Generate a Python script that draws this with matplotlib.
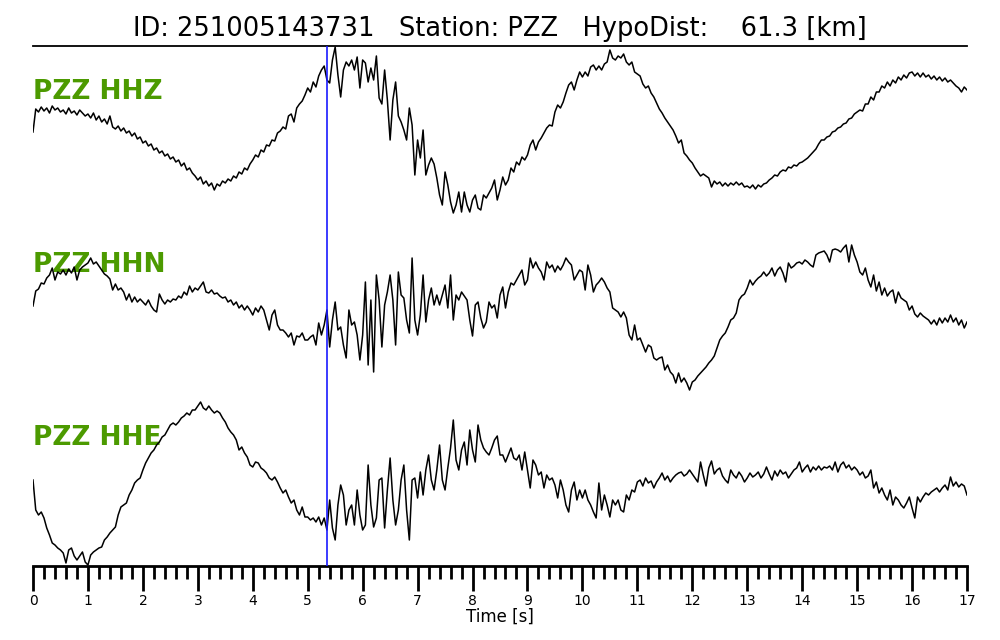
import numpy as np
import matplotlib
matplotlib.use("Agg")
import matplotlib.pyplot as plt
from matplotlib.ticker import MultipleLocator

# ---------------- data ----------------
title_text = "ID: 251005143731   Station: PZZ   HypoDist:    61.3 [km]"
channels = ["PZZ HHZ", "PZZ HHN", "PZZ HHE"]
dt = 0.05
t_pick = 5.35      # P pick (blue line) [s]

hhz = [0, 23, 20, 25, 21, 24, 19, 26, 22, 24, 20, 22, 18, 24, 19, 21, 17, 22, 19, 16,
       18, 14, 19, 12, 16, 10, 13, 8, 16, 5, 3, 6, 1, 4, -1, 1, -4, -1, -7, -5,
       -11, -9, -14, -12, -18, -16, -21, -19, -24, -22, -27, -25, -30, -28, -34, -31, -38, -36, -41, -44,
       -48, -45, -52, -49, -54, -51, -58, -52, -54, -49, -51, -47, -49, -44, -46, -40, -42, -36, -38, -32,
       -28, -23, -25, -18, -20, -13, -14, -8, -9, -1, 1, 5, 3, 16, 18, 10, 24, 28, 31, 37,
       44, 40, 50, 45, 56, 62, 66, 52, 49, 72, 85, 57, 35, 62, 70, 66, 72, 62, 75, 44,
       72, 69, 50, 64, 52, 76, 34, 28, 62, 32, -8, 32, 50, 16, 10, 2, -8, 24, 7, -43,
       -8, -26, 2, -43, -33, -26, -32, -46, -63, -73, -40, -53, -70, -81, -73, -60, -80, -60, -73, -80,
       -68, -63, -76, -78, -63, -66, -61, -56, -48, -68, -58, -45, -53, -48, -36, -40, -30, -33, -25, -28,
       -23, -13, -8, -18, -10, -6, -1, 4, 7, 6, 20, 27, 24, 30, 39, 47, 50, 42, 52, 60,
       55, 60, 56, 65, 67, 62, 66, 62, 68, 70, 82, 74, 72, 76, 74, 78, 70, 67, 70, 60,
       58, 56, 48, 44, 46, 39, 35, 29, 23, 19, 14, 10, 6, 2, -4, -11, -8, -21, -24, -28,
       -31, -36, -40, -44, -42, -44, -46, -55, -49, -52, -50, -54, -51, -54, -51, -53, -50, -53, -51, -55,
       -54, -56, -53, -57, -53, -55, -52, -51, -48, -46, -43, -44, -40, -38, -39, -35, -36, -33, -34, -31,
       -30, -28, -26, -23, -20, -17, -12, -8, -8, -5, -4, 0, 1, 4, 5, 8, 9, 13, 14, 18,
       20, 22, 21, 28, 28, 35, 32, 40, 40, 46, 44, 50, 46, 52, 49, 55, 52, 57, 54, 59,
       60, 56, 59, 55, 59, 55, 57, 53, 56, 52, 55, 51, 54, 50, 52, 49, 46, 44, 40, 45, 42]

hhn = [-1, 14, 16, 22, 21, 27, 30, 37, 25, 33, 31, 35, 30, 36, 32, 38, 25, 35, 38, 40,
       42, 47, 41, 43, 39, 35, 31, 29, 26, 15, 21, 15, 17, 13, 5, 11, 3, 8, 3, 6,
       3, 0, 5, -1, -5, -7, 11, 5, 1, 5, 3, 6, 5, 9, 7, 13, 10, 19, 13, 17,
       15, 19, 23, 13, 12, 15, 11, 12, 9, 7, 8, 3, 5, 0, 3, -3, 0, -5, -1, -5,
       -10, -3, -7, -1, -5, -15, -25, -10, -5, -20, -25, -25, -28, -32, -28, -40, -31, -32, -28, -35,
       -35, -32, -30, -40, -18, -30, -20, -5, -42, -15, 3, -25, -22, -40, -53, -5, -20, -17, -30, -55,
       -30, 23, -60, 5, -67, 30, 5, -42, 0, 13, 30, 5, -40, 33, 10, 7, -15, -28, 47, -15,
       -30, -10, 30, -17, 5, 17, 0, 10, 0, 10, 20, -3, 30, -15, 10, 5, 13, 9, 5, -15,
       -31, 0, 3, -13, -23, -17, 3, -3, 0, -13, 10, 18, -3, 13, 22, 20, 25, 30, 35, 20,
       25, 47, 37, 43, 37, 33, 25, 43, 37, 40, 33, 39, 35, 40, 47, 43, 40, 25, 30, 35,
       33, 15, 40, 30, 13, 20, 23, 27, 23, 17, 13, -3, -5, -7, -12, -7, -13, -30, -35, -20,
       -35, -33, -40, -47, -40, -42, -53, -55, -53, -52, -65, -60, -67, -70, -78, -68, -77, -73, -78, -85,
       -77, -75, -71, -68, -65, -62, -58, -55, -51, -43, -35, -31, -28, -22, -15, -13, -8, 5, 9, 11,
       17, 25, 20, 24, 27, 29, 33, 29, 32, 37, 29, 35, 38, 32, 23, 42, 37, 39, 42, 43,
       41, 45, 43, 40, 38, 50, 52, 53, 54, 50, 43, 55, 56, 55, 53, 57, 60, 43, 60, 50,
       43, 33, 30, 37, 25, 18, 30, 14, 23, 10, 17, 9, 13, 15, 2, 13, 7, 5, 3, -5,
       -1, -9, -12, -8, -11, -13, -15, -19, -15, -20, -13, -18, -13, -17, -10, -17, -13, -20, -15, -23, -17]

hhe = [-2, -32, -37, -34, -40, -50, -57, -65, -67, -70, -72, -75, -85, -72, -70, -78, -82, -78, -74, -84,
       -87, -77, -74, -72, -70, -69, -62, -59, -55, -52, -49, -37, -29, -27, -25, -17, -12, -5, -2, 0,
       8, 15, 20, 25, 28, 33, 36, 41, 43, 48, 53, 55, 53, 56, 60, 62, 65, 63, 68, 68,
       72, 76, 70, 68, 72, 68, 65, 67, 65, 60, 56, 50, 46, 43, 38, 28, 31, 25, 21, 13,
       11, 16, 15, 10, 8, 5, 0, -2, 1, -4, -10, -15, -12, -19, -25, -22, -32, -37, -29, -39,
       -39, -42, -40, -44, -39, -47, -40, -52, -22, -50, -62, -27, -7, -17, -47, -32, -27, -47, -12, -37,
       -52, -47, 13, -27, -49, -40, -2, 0, -50, -12, 20, -22, -47, -32, -2, 13, -32, -62, -2, 0,
       -20, 6, -17, 8, 23, -2, -12, 8, 33, -2, -12, 10, 30, 58, 18, 8, 28, 36, 13, 48,
       28, 16, 53, 38, 30, 26, 23, 30, 38, 42, 23, 23, 16, 23, 30, 20, 18, 23, 8, 26,
       8, -10, 18, 13, 3, 6, -10, 3, -2, 0, -7, -20, -2, -12, -27, -34, -12, -4, -22, -12,
       -20, -12, -22, -27, -34, -40, -5, -32, -17, -27, -39, -22, -27, -22, -32, -34, -17, -22, -12, -14,
       -4, -2, -8, 0, -5, -3, -10, -4, 0, 5, -2, 2, -4, 0, 3, 5, 6, 2, 4, 8,
       4, 0, -4, 16, 3, -8, 10, 17, 4, 8, 10, 2, -2, -5, 8, 3, 0, 6, 2, -4,
       0, 5, 1, 3, 6, 0, 4, 11, 4, -2, 7, 2, 8, 4, 6, 0, 4, 8, 10, 16,
       6, 10, 13, 6, 11, 8, 12, 8, 11, 10, 12, 8, 16, 6, 13, 16, 10, 13, 8, 11,
       8, 3, 6, 0, 2, 8, -10, -4, -15, -10, -17, -22, -12, -27, -19, -22, -27, -30, -25, -19,
       -30, -40, -19, -24, -19, -15, -17, -14, -12, -10, -14, -10, -7, -12, 1, -8, -4, -9, -6, -8, -17]

traces = [hhz, hhn, hhe]

# ---------------- layout ----------------
offsets = [434, 261, 88]       # vertical placement of each trace
label_dy = 40                  # channel label above trace baseline
W, H = 1000, 640

fig = plt.figure(figsize=(W / 100, H / 100), dpi=100)
ax = fig.add_axes([33 / W, 1 - 566 / H, (967 - 33) / W, (566 - 46) / H])
ax.set_xlim(0, 17)
ax.set_ylim(0, 520)

for tr, off, name in zip(traces, offsets, channels):
    a = np.asarray(tr, dtype=float)
    t = np.arange(a.size) * dt
    ax.plot(t, off + a, color="black", lw=1.1, zorder=2)
    ax.text(0.0, off + label_dy, name, color="#4c9a00", fontsize=19,
            fontweight="bold", ha="left", va="center", zorder=1)

ax.axvline(t_pick, color="#1a1aff", lw=1.2, zorder=3)

for s in ("left", "right"):
    ax.spines[s].set_visible(False)
ax.spines["top"].set_linewidth(1.3)
ax.spines["bottom"].set_linewidth(2.0)
ax.yaxis.set_visible(False)

ax.xaxis.set_major_locator(MultipleLocator(1))
ax.xaxis.set_minor_locator(MultipleLocator(0.2))
ax.tick_params(axis="x", which="major", length=18, width=2.0, labelsize=10, pad=2)
ax.tick_params(axis="x", which="minor", length=9, width=2.0)
ax.set_xlabel("Time [s]", fontsize=12, labelpad=0)
ax.set_title(title_text, fontsize=18.5, pad=7)

fig.savefig("out.png", dpi=100)
